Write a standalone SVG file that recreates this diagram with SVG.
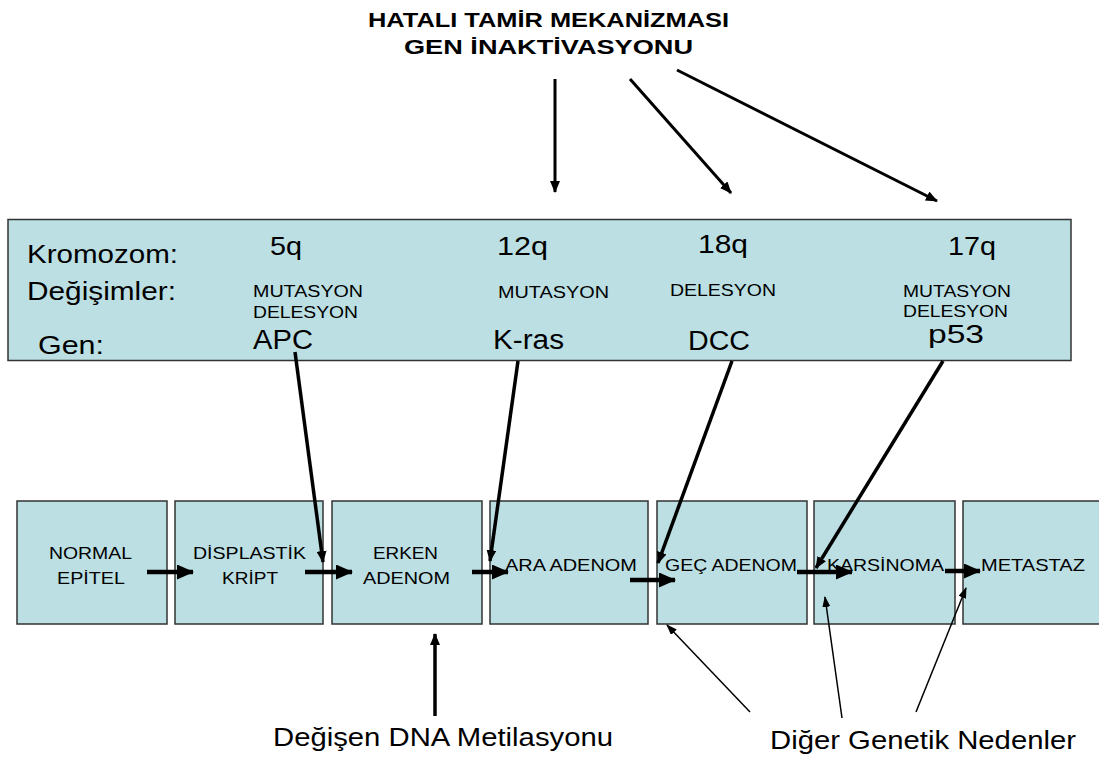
<svg xmlns="http://www.w3.org/2000/svg" width="1099" height="757" viewBox="0 0 1099 757">
  <defs>
    <style>
      text { font-family: "Liberation Sans", Arial, sans-serif; fill: #000; }
      .title { font-size: 21px; font-weight: bold; }
      .row { font-size: 25px; }
      .chr { font-size: 25px; }
      .chg { font-size: 16px; }
      .gene { font-size: 27px; }
      .gene-sm { font-size: 25px; }
      .stage { font-size: 17px; }
      .foot { font-size: 25px; }
      .panel { fill: #bbdfe3; stroke: #333; stroke-width: 1.5; }
      .thick { stroke: #000; stroke-width: 4.5; fill: none; }
      .gline { stroke: #000; stroke-width: 3.5; fill: none; }
      .top { stroke: #000; stroke-width: 3; fill: none; }
      .thin { stroke: #000; stroke-width: 1.5; fill: none; }
    </style>
    <marker id="hBig" markerUnits="userSpaceOnUse" markerWidth="17" markerHeight="15" refX="16" refY="7.5" orient="auto">
      <path d="M0,0 L17,7.5 L0,15 Z" fill="#000"/>
    </marker>
    <marker id="hMid" markerUnits="userSpaceOnUse" markerWidth="12" markerHeight="10" refX="11" refY="5" orient="auto">
      <path d="M0,0 L12,5 L0,10 Z" fill="#000"/>
    </marker>
    <marker id="hThin" markerUnits="userSpaceOnUse" markerWidth="11" markerHeight="8" refX="10" refY="4" orient="auto">
      <path d="M0,0 L11,4 L0,8 Z" fill="#000"/>
    </marker>
  </defs>

  <rect width="1099" height="757" fill="#fff"/>

  <!-- heading -->
  <g id="heading">
    <text class="title" x="368" y="27" textLength="361" lengthAdjust="spacingAndGlyphs">HATALI TAMİR MEKANİZMASI</text>
    <text class="title" x="404" y="54" textLength="289" lengthAdjust="spacingAndGlyphs">GEN İNAKTİVASYONU</text>
  </g>

  <!-- chromosome / change / gene table -->
  <g id="table">
    <rect class="panel" x="8" y="219.5" width="1063" height="141"/>
    <text class="row" x="27" y="263" textLength="151" lengthAdjust="spacingAndGlyphs">Kromozom:</text>
    <text class="row" x="27" y="300" textLength="149" lengthAdjust="spacingAndGlyphs">Değişimler:</text>
    <text class="row" x="38" y="354" textLength="66" lengthAdjust="spacingAndGlyphs">Gen:</text>

    <text class="chr" x="270" y="255" textLength="32" lengthAdjust="spacingAndGlyphs">5q</text>
    <text class="chr" x="497" y="255" textLength="51" lengthAdjust="spacingAndGlyphs">12q</text>
    <text class="chr" x="698" y="253" textLength="50" lengthAdjust="spacingAndGlyphs">18q</text>
    <text class="chr" x="948" y="255" textLength="48" lengthAdjust="spacingAndGlyphs">17q</text>

    <text class="chg" x="253" y="297" textLength="110" lengthAdjust="spacingAndGlyphs">MUTASYON</text>
    <text class="chg" x="253" y="318" textLength="105" lengthAdjust="spacingAndGlyphs">DELESYON</text>
    <text class="chg" x="498" y="298" textLength="111" lengthAdjust="spacingAndGlyphs">MUTASYON</text>
    <text class="chg" x="670" y="296" textLength="106" lengthAdjust="spacingAndGlyphs">DELESYON</text>
    <text class="chg" x="903" y="297" textLength="108" lengthAdjust="spacingAndGlyphs">MUTASYON</text>
    <text class="chg" x="903" y="317" textLength="105" lengthAdjust="spacingAndGlyphs">DELESYON</text>

    <text class="gene" x="253" y="349" textLength="60" lengthAdjust="spacingAndGlyphs">APC</text>
    <text class="gene" x="493" y="349" textLength="71" lengthAdjust="spacingAndGlyphs">K-ras</text>
    <text class="gene" x="688" y="350" textLength="62" lengthAdjust="spacingAndGlyphs">DCC</text>
    <text class="gene-sm" x="928" y="343" textLength="56" lengthAdjust="spacingAndGlyphs">p53</text>
  </g>

  <!-- progression stages -->
  <g id="stage-normal">
    <rect class="panel" x="17" y="501" width="150" height="123"/>
    <text class="stage" x="49" y="559" textLength="83" lengthAdjust="spacingAndGlyphs">NORMAL</text>
    <text class="stage" x="57" y="584" textLength="68" lengthAdjust="spacingAndGlyphs">EPİTEL</text>
  </g>
  <g id="stage-displastik">
    <rect class="panel" x="175" y="501" width="148" height="123"/>
    <text class="stage" x="193" y="559" textLength="113" lengthAdjust="spacingAndGlyphs">DİSPLASTİK</text>
    <text class="stage" x="222" y="584" textLength="56" lengthAdjust="spacingAndGlyphs">KRİPT</text>
  </g>
  <g id="stage-erken">
    <rect class="panel" x="332" y="501" width="150" height="123"/>
    <text class="stage" x="373" y="559" textLength="65" lengthAdjust="spacingAndGlyphs">ERKEN</text>
    <text class="stage" x="363" y="584" textLength="87" lengthAdjust="spacingAndGlyphs">ADENOM</text>
  </g>
  <g id="stage-ara">
    <rect class="panel" x="490" y="501" width="158" height="123"/>
    <text class="stage" x="505" y="571" textLength="132" lengthAdjust="spacingAndGlyphs">ARA ADENOM</text>
  </g>
  <g id="stage-gec">
    <rect class="panel" x="657" y="501" width="150" height="123"/>
    <text class="stage" x="665" y="571" textLength="132" lengthAdjust="spacingAndGlyphs">GEÇ ADENOM</text>
  </g>
  <g id="stage-karsinoma">
    <rect class="panel" x="814" y="501" width="141" height="123"/>
    <text class="stage" x="827" y="571" textLength="117" lengthAdjust="spacingAndGlyphs">KARSİNOMA</text>
  </g>
  <g id="stage-metastaz">
    <rect class="panel" x="963" y="501" width="150" height="123"/>
    <text class="stage" x="981" y="571" textLength="104" lengthAdjust="spacingAndGlyphs">METASTAZ</text>
  </g>

  <!-- bottom labels -->
  <g id="label-metilasyon">
    <text class="foot" x="273" y="746" textLength="340" lengthAdjust="spacingAndGlyphs">Değişen DNA Metilasyonu</text>
  </g>
  <g id="label-diger">
    <text class="foot" x="770" y="749" textLength="306" lengthAdjust="spacingAndGlyphs">Diğer Genetik Nedenler</text>
  </g>

  <!-- connectors -->
  <g id="connectors">
    <!-- from heading down to the table -->
    <line class="top" x1="555" y1="79" x2="555" y2="192" marker-end="url(#hMid)"/>
    <line class="top" x1="630" y1="79" x2="731" y2="193" marker-end="url(#hMid)"/>
    <line class="top" x1="677" y1="70" x2="937" y2="201" marker-end="url(#hMid)"/>

    <!-- genes to stages -->
    <line class="gline" x1="295" y1="352" x2="323" y2="562" marker-end="url(#hMid)"/>
    <line class="gline" x1="518" y1="361" x2="490" y2="561" marker-end="url(#hMid)"/>
    <line class="gline" x1="732" y1="361" x2="658" y2="563" marker-end="url(#hMid)"/>
    <line class="gline" x1="943" y1="361" x2="816" y2="568" marker-end="url(#hMid)"/>

    <!-- stage to stage -->
    <line class="thick" x1="147" y1="572" x2="193" y2="572" marker-end="url(#hBig)"/>
    <line class="thick" x1="305" y1="572" x2="352" y2="572" marker-end="url(#hBig)"/>
    <line class="thick" x1="472" y1="572" x2="508" y2="572" marker-end="url(#hBig)"/>
    <line class="thick" x1="630" y1="580" x2="675" y2="580" marker-end="url(#hBig)"/>
    <line class="thick" x1="797" y1="572" x2="852" y2="572" marker-end="url(#hBig)"/>
    <line class="thick" x1="945" y1="571" x2="980" y2="571" marker-end="url(#hBig)"/>

    <!-- other causes -->
    <line class="gline" x1="435" y1="716" x2="435" y2="634" marker-end="url(#hMid)"/>
    <line class="thin" x1="750" y1="712" x2="667" y2="625" marker-end="url(#hThin)"/>
    <line class="thin" x1="842" y1="718" x2="825" y2="597" marker-end="url(#hThin)"/>
    <line class="thin" x1="916" y1="712" x2="966" y2="588" marker-end="url(#hThin)"/>
  </g>
</svg>
